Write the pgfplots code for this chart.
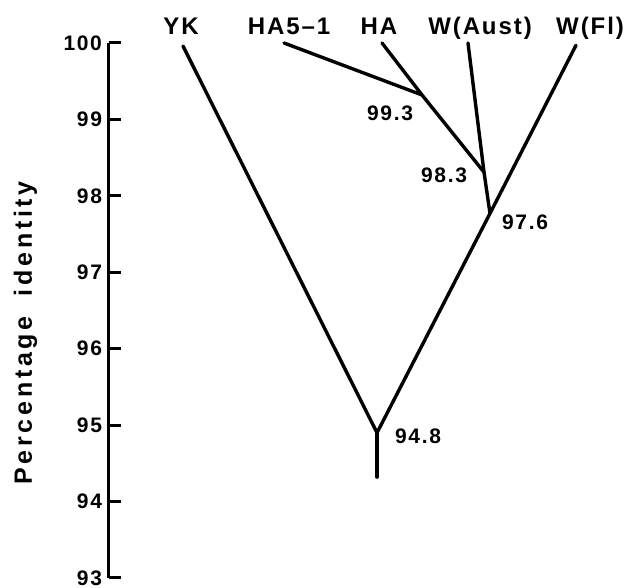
\documentclass[border=0pt]{standalone}
\usepackage{fontspec}
\setmainfont{Liberation Sans}[LetterSpace=8]
\newfontfamily\widefont{Liberation Sans}[LetterSpace=15]
\usepackage{pgfplots}
\pgfplotsset{compat=1.18}
\begin{document}
\begin{tikzpicture}
\begin{axis}[
  scale only axis, width=260.5pt, height=267.5pt,
  xmin=109, xmax=630, ymin=93, ymax=100,
  axis line style={draw=none},
  xtick=\empty,
  ytick={93,94,95,96,97,98,99,100},
  ytick pos=left,
  tick align=inside,
  major tick length=6pt,
  ytick style={line width=1.5pt, black},
  yticklabel style={font=\bfseries\fontsize{10.5}{12}\selectfont},
  /pgf/number format/assume math mode=true,
  clip=false,
  br/.style={black, solid, line width=1.7pt, line join=round, line cap=round, mark=none},
]
% y axis line
\addplot[black, line width=1.5pt, mark=none] coordinates {(109,93) (109,100)};
% branches
\addplot[br] coordinates {(183,99.96) (377,94.90)};
\addplot[br] coordinates {(576,99.97) (490,97.77) (377,94.90)};
\addplot[br] coordinates {(377,94.90) (377,94.32)};
\addplot[br] coordinates {(468,100) (484,98.31) (490,97.77)};
\addplot[br] coordinates {(382,100) (422,99.32) (484,98.31)};
\addplot[br] coordinates {(284,100) (422,99.32)};
% leaf labels
\begin{scope}[every node/.style={font=\bfseries\fontsize{12}{14}\selectfont, anchor=base, inner sep=0pt}]
\node at (axis cs:181,100.105) {YK};
\node at (axis cs:289,100.105) {HA5--1};
\node at (axis cs:379,100.105) {HA};
\node at (axis cs:480,100.105) {W(Aust)};
\node at (axis cs:590,100.105) {W(Fl)};
\end{scope}
% node labels
\begin{scope}[every node/.style={font=\bfseries\fontsize{10.5}{12}\selectfont, anchor=center, inner sep=0pt}]
\node at (axis cs:390,99.084) {99.3};
\node at (axis cs:444,98.273) {98.3};
\node at (axis cs:525,97.658) {97.6};
\node at (axis cs:418,94.858) {94.8};
\end{scope}
\node[rotate=90, anchor=base, inner sep=0pt, font=\widefont\bfseries\fontsize{12.5}{14}\selectfont] at (axis cs:32,96.206) {Percentage\hspace{10pt}identity};
\coordinate (BL) at (axis cs:0,92.882);
\coordinate (TR) at (axis cs:630,100.5626);
\end{axis}
\pgfresetboundingbox
\path[use as bounding box] (BL) rectangle (TR);
\end{tikzpicture}
\end{document}
